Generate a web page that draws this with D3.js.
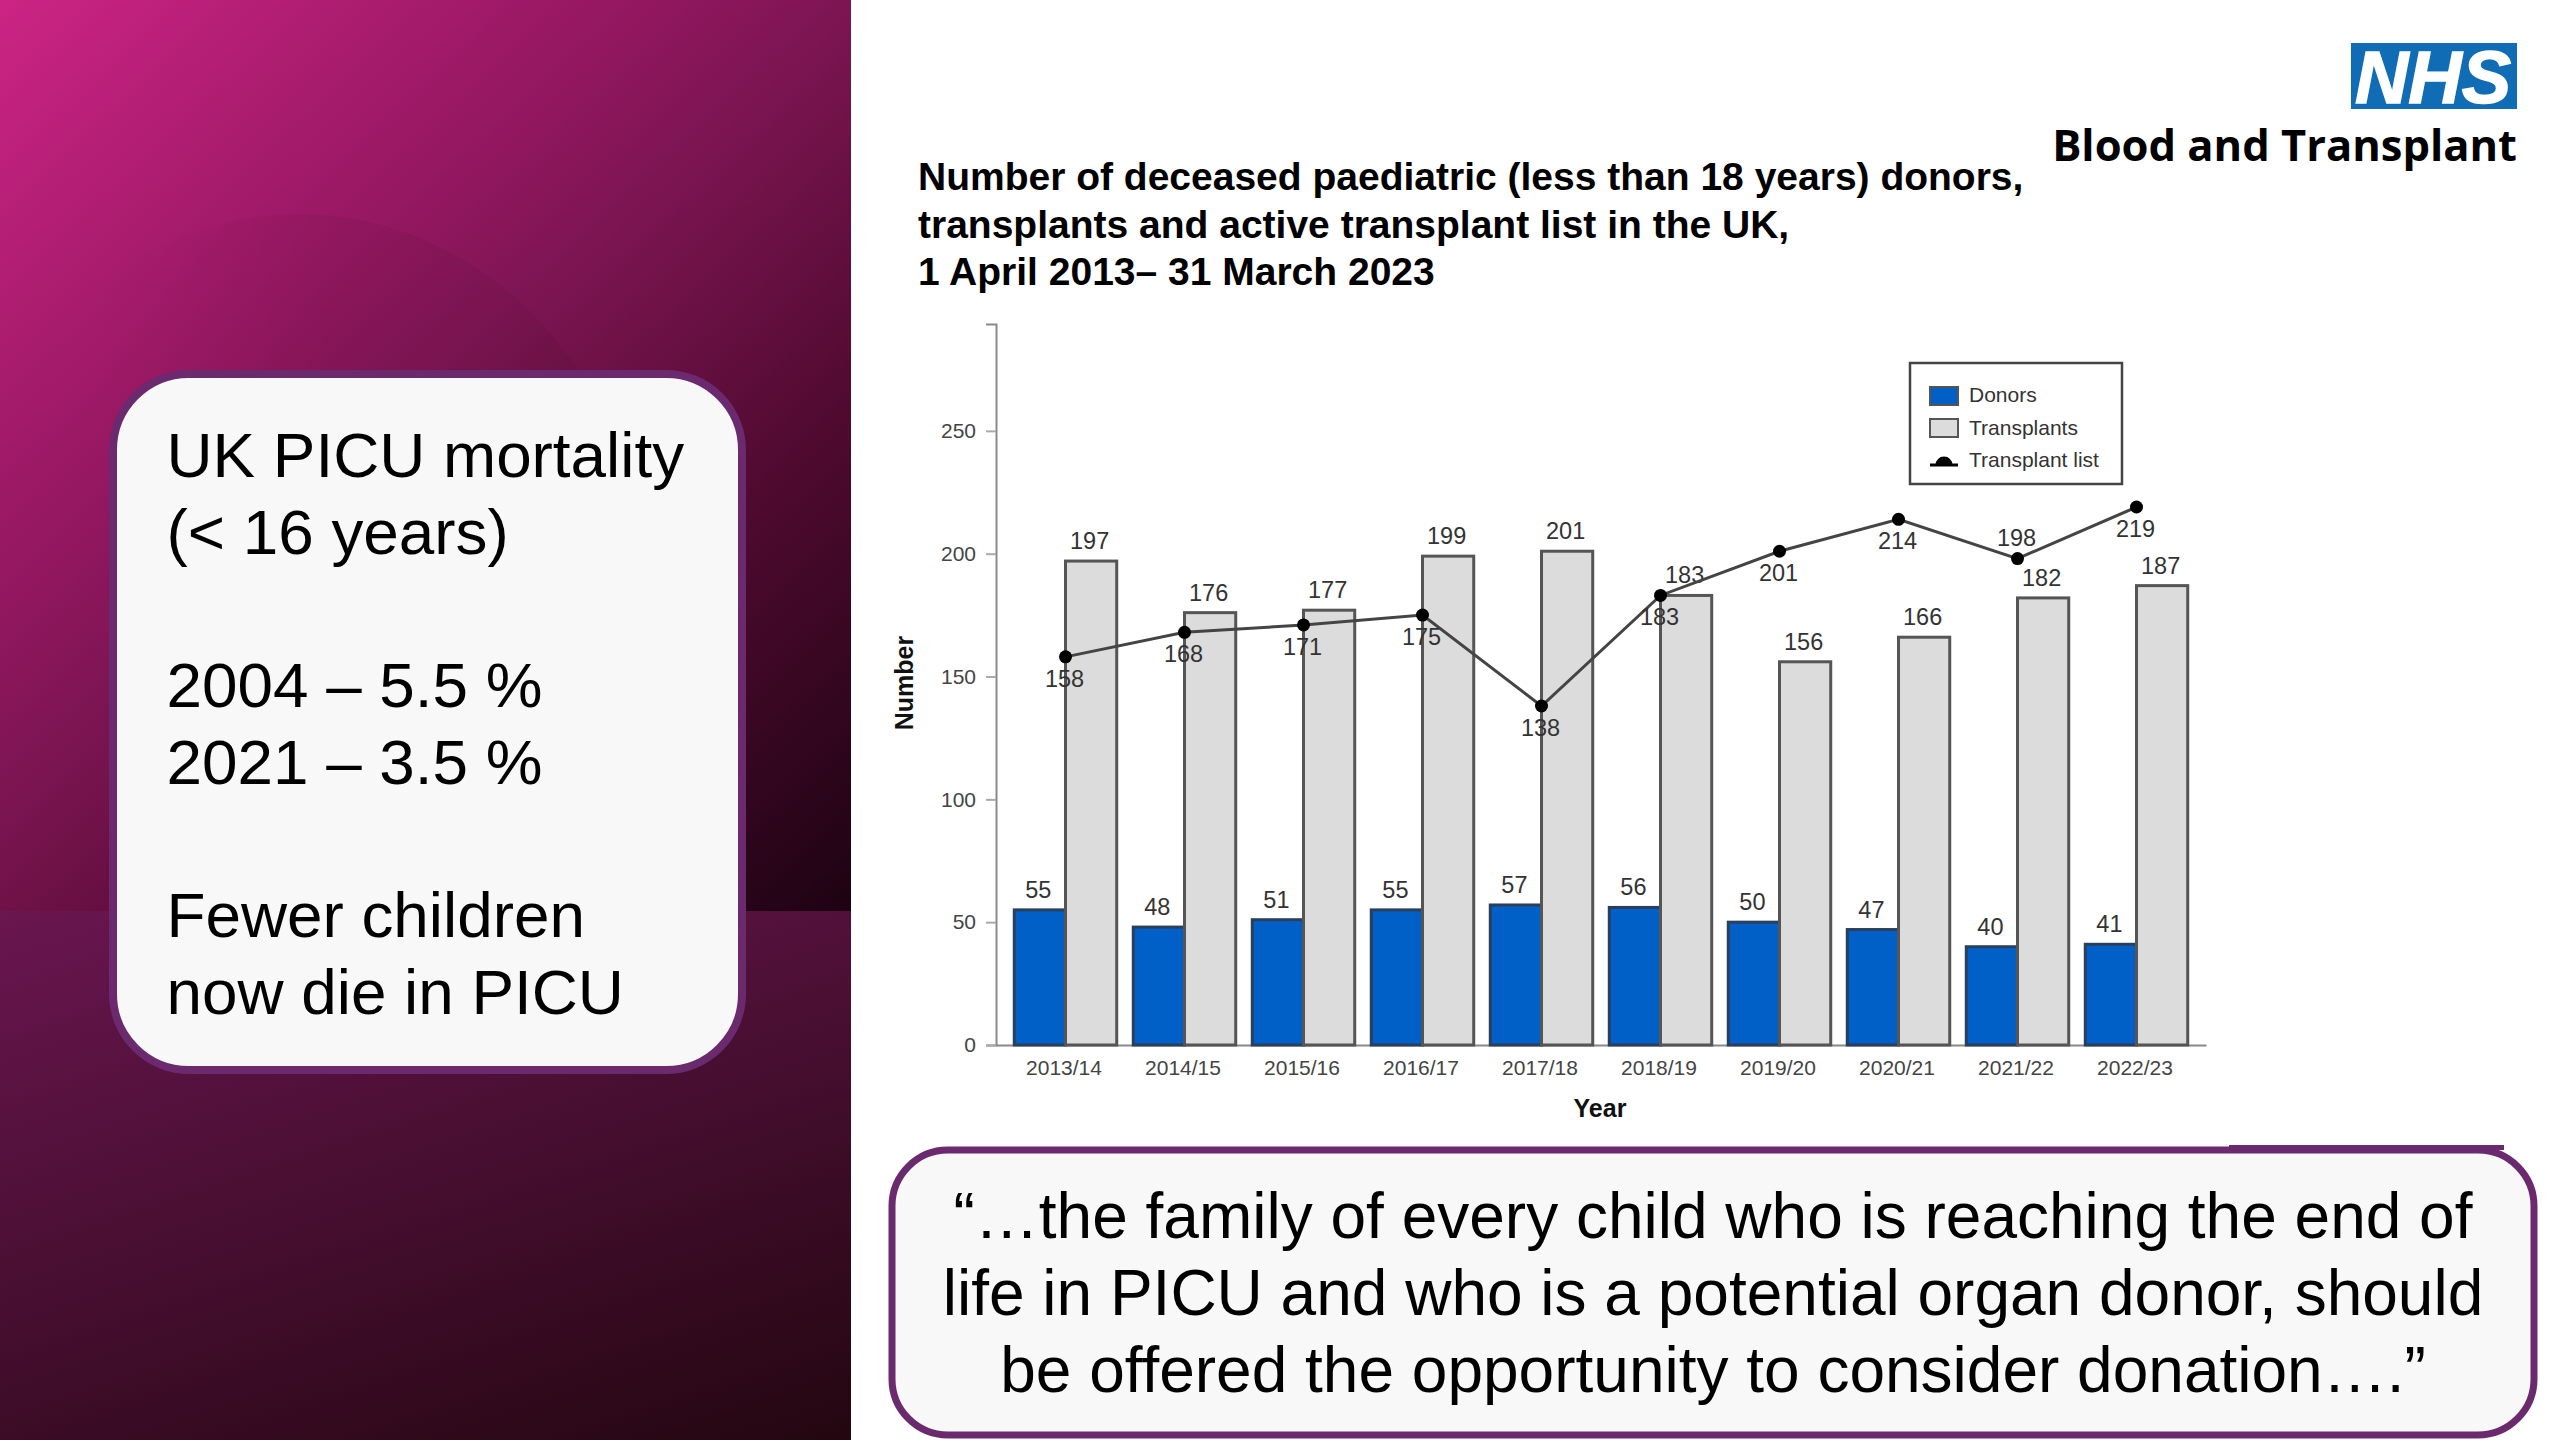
<!DOCTYPE html>
<html>
<head>
<meta charset="utf-8">
<script src="https://cdn.jsdelivr.net/npm/d3@7"></script>
<style>
  html, body { margin: 0; padding: 0; background: #fff; }
  svg { display: block; }
  text { font-family: "Liberation Sans", Arial, sans-serif; }
</style>
</head>
<body>
<div id="slide"></div>
<script>
// Chart data
const years = ["2013/14", "2014/15", "2015/16", "2016/17", "2017/18", "2018/19", "2019/20", "2020/21", "2021/22", "2022/23"];
const donors = [55, 48, 51, 55, 57, 56, 50, 47, 40, 41];
const transplants = [197, 176, 177, 199, 201, 183, 156, 166, 182, 187];
const transplantList = [158, 168, 171, 175, 138, 183, 201, 214, 198, 219];
const yTicks = [0, 50, 100, 150, 200, 250];
const barSeries = ["Donors", "Transplants"];
const legendLabels = ["Donors", "Transplants", "Transplant list"];

// Slide text
const titleLines = [
    "Number of deceased paediatric (less than 18 years) donors,",
    "transplants and active transplant list in the UK,",
    "1 April 2013\u2013 31 March 2023"
];
const mortalityLines = [
    "UK PICU mortality", "(< 16 years)", "", "2004 \u2013 5.5 %", "2021 \u2013 3.5 %", "", "Fewer children", "now die in PICU"
];
const quoteLines = [
    "\u201C\u2026the family of every child who is reaching the end of",
    "life in PICU and who is a potential organ donor, should",
    "be offered the opportunity to consider donation\u2026.\u201D"
];

const width = 2560, height = 1440;
const purple = "#6b2a6e";
const svg = d3.select("#slide").append("svg").attr("width", width).attr("height", height);
const defs = svg.append("defs");

function addGradient(id, x1, y1, x2, y2, stops) {
    const g = defs.append("linearGradient").attr("id", id)
        .attr("gradientUnits", "userSpaceOnUse")
        .attr("x1", x1).attr("y1", y1).attr("x2", x2).attr("y2", y2);
    stops.forEach(s => g.append("stop").attr("offset", s[0]).attr("stop-color", s[1]).attr("stop-opacity", s[2] === undefined ? 1 : s[2]));
}

// Left panel background
addGradient("lower", 0, 911, 245, 1654, [[0, "#6a1650"], [1, "#22060f"]]);
addGradient("upper", 0, 0, 851, 911, [[0, "#cc2484"], [0.35, "#931760"], [0.47, "#7c1552"], [0.7, "#500a30"], [1, "#1d0312"]]);
addGradient("arcFade", 90, 0, 330, 0, [[0, "#000", 0], [1, "#000", 0.05]]);
svg.append("rect").attr("x", 0).attr("y", 911).attr("width", 851).attr("height", 529).attr("fill", "url(#lower)");
svg.append("rect").attr("x", 0).attr("y", 0).attr("width", 851).attr("height", 911).attr("fill", "url(#upper)");
svg.append("ellipse").attr("cx", 300).attr("cy", 610).attr("rx", 350).attr("ry", 396)
    .attr("fill", "url(#arcFade)");

// Mortality box
svg.append("rect").attr("x", 113).attr("y", 374).attr("width", 629).attr("height", 696)
    .attr("rx", 76).attr("fill", "#f8f8f8").attr("stroke", purple).attr("stroke-width", 8);
svg.append("g").selectAll("text").data(mortalityLines).join("text")
    .attr("x", 166.5)
    .attr("y", (d, i) => 477 + i * 76.7)
    .attr("font-size", 63.8)
    .attr("fill", "#000")
    .text(d => d);

// Quote box
svg.append("rect").attr("x", 892).attr("y", 1150).attr("width", 1642).attr("height", 285)
    .attr("rx", 56).attr("fill", "#f8f8f8").attr("stroke", purple).attr("stroke-width", 7);
svg.append("rect").attr("x", 2229).attr("y", 1145).attr("width", 275).attr("height", 5).attr("fill", purple);
svg.append("g").selectAll("text").data(quoteLines).join("text")
    .attr("x", 1713)
    .attr("y", (d, i) => 1238 + i * 77)
    .attr("text-anchor", "middle")
    .attr("font-size", 64)
    .attr("fill", "#000")
    .text(d => d);

// NHS logo
svg.append("rect").attr("x", 2351).attr("y", 43).attr("width", 166).attr("height", 66).attr("fill", "#0f6cb5");
svg.append("text").attr("x", 2433).attr("y", 103).attr("text-anchor", "middle")
    .attr("font-size", 74).attr("font-weight", "bold").attr("font-style", "italic")
    .attr("fill", "#fff").attr("stroke", "#fff").attr("stroke-width", 1.5)
    .text("NHS");
svg.append("text").attr("x", 2517).attr("y", 161).attr("text-anchor", "end")
    .style("font-family", "'Open Sans'")
    .attr("font-size", 43.5).attr("font-weight", 700).attr("fill", "#000")
    .text("Blood and Transplant");

// Chart title
svg.append("g").selectAll("text").data(titleLines).join("text")
    .attr("x", 918)
    .attr("y", (d, i) => 190 + i * 47.5)
    .attr("font-size", 39)
    .attr("font-weight", "bold")
    .attr("fill", "#000")
    .text(d => d);

// Scales
const x = d3.scaleBand().domain(years).range([996, 2206]).paddingInner(0.139).paddingOuter(0.1535);
const xBar = d3.scaleBand().domain(barSeries).range([0, x.bandwidth()]);
const y = d3.scaleLinear().domain([0, 293.5]).range([1045, 324]);

// Axes
const axisY = svg.append("g").attr("transform", "translate(996,0)")
    .call(d3.axisLeft(y).tickValues(yTicks).tickSize(10).tickPadding(10));
const axisX = svg.append("g").attr("transform", "translate(0,1045)")
    .call(d3.axisBottom(x).tickSize(0).tickPadding(15));
[axisY, axisX].forEach(a => {
    a.select(".domain").attr("stroke", "#8a8a8a").attr("stroke-width", 2);
    a.selectAll(".tick line").attr("stroke", "#aaa").attr("stroke-width", 2);
    a.selectAll("text").attr("font-size", 21).attr("fill", "#444")
        .style("font-family", "'Liberation Sans'");
});
axisX.selectAll("text").attr("dx", -1.5);
svg.append("text").attr("x", 1600).attr("y", 1117).attr("text-anchor", "middle")
    .attr("font-size", 25).attr("font-weight", "bold").attr("fill", "#111").text("Year");
svg.append("text").attr("transform", "translate(913,683) rotate(-90)").attr("text-anchor", "middle")
    .attr("font-size", 25).attr("font-weight", "bold").attr("fill", "#111").text("Number");

// Bars
const barRows = [
    { name: "Donors", values: donors, fill: "#0060c8", stroke: "#2a3f5c" },
    { name: "Transplants", values: transplants, fill: "#dcdcdc", stroke: "#555" }
];
barRows.forEach(row => {
    const points = years.map((yr, i) => ({ yr, v: row.values[i] }));
    const barX = d => x(d.yr) + xBar(row.name);
    svg.append("g").selectAll("rect").data(points).join("rect")
        .attr("x", barX)
        .attr("y", d => y(d.v))
        .attr("width", xBar.bandwidth())
        .attr("height", d => y(0) - y(d.v))
        .attr("fill", row.fill)
        .attr("stroke", row.stroke)
        .attr("stroke-width", 3);
    svg.append("g").selectAll("text").data(points).join("text")
        .attr("x", d => barX(d) + xBar.bandwidth() / 2 - 1.5)
        .attr("y", d => y(d.v) - 12)
        .attr("text-anchor", "middle")
        .attr("font-size", 23.5)
        .attr("fill", "#333")
        .text(d => d.v);
});

// Transplant list line
const listPoints = years.map((yr, i) => ({ yr, v: transplantList[i] }));
const listX = d => x(d.yr) + x.bandwidth() / 2;
svg.append("path").datum(listPoints)
    .attr("fill", "none").attr("stroke", "#444").attr("stroke-width", 3)
    .attr("d", d3.line().x(listX).y(d => y(d.v)));
svg.append("g").selectAll("circle").data(listPoints).join("circle")
    .attr("cx", listX).attr("cy", d => y(d.v)).attr("r", 6.5).attr("fill", "#000");
svg.append("g").selectAll("text").data(listPoints).join("text")
    .attr("x", d => listX(d) - 1)
    .attr("y", d => d.yr === "2021/22" ? y(d.v) - 13 : y(d.v) + 30)
    .attr("text-anchor", "middle")
    .attr("font-size", 23.5)
    .attr("fill", "#333")
    .text(d => d.v);

// Legend
const legend = svg.append("g");
legend.append("rect").attr("x", 1910).attr("y", 363).attr("width", 212).attr("height", 121)
    .attr("fill", "#fff").attr("stroke", "#444").attr("stroke-width", 2.5);
legend.append("rect").attr("x", 1930).attr("y", 387).attr("width", 28).attr("height", 18)
    .attr("fill", "#0060c8").attr("stroke", "#555").attr("stroke-width", 2);
legend.append("rect").attr("x", 1930).attr("y", 419).attr("width", 28).attr("height", 18)
    .attr("fill", "#dcdcdc").attr("stroke", "#555").attr("stroke-width", 2);
legend.append("line").attr("x1", 1930).attr("x2", 1958).attr("y1", 465).attr("y2", 465)
    .attr("stroke", "#000").attr("stroke-width", 3);
legend.append("path").attr("transform", "translate(1944,465)")
    .attr("d", d3.arc()({ innerRadius: 0, outerRadius: 8.5, startAngle: -Math.PI / 2, endAngle: Math.PI / 2 }))
    .attr("fill", "#000");
legend.selectAll("text").data(legendLabels).join("text")
    .attr("x", 1969)
    .attr("y", (d, i) => 402 + i * 32.5)
    .attr("font-size", 21)
    .attr("fill", "#333")
    .text(d => d);
</script>
</body>
</html>
